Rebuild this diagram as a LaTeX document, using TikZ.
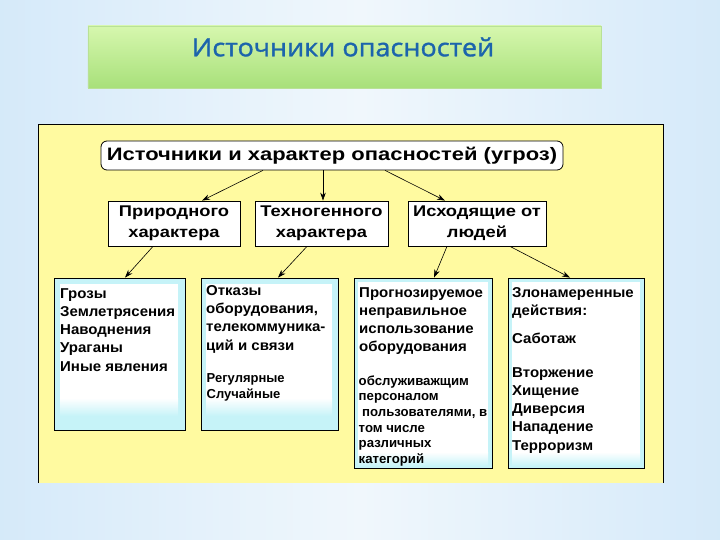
\documentclass[tikz,border=0pt]{standalone}
\usepackage{fontspec}
\setmainfont{Liberation Sans}
\newfontfamily\titlefont[FakeBold=1.3,FakeStretch=1.08]{Open Sans}
\newfontfamily\wideA[FakeStretch=1.22]{Liberation Sans}
\newfontfamily\wideB[FakeStretch=1.18]{Liberation Sans}
\newfontfamily\wideC[FakeStretch=1.05]{Liberation Sans}
\usetikzlibrary{arrows.meta,calc}
\definecolor{bge}{RGB}{164,209,243}
\definecolor{bgm}{RGB}{210,232,249}
\definecolor{bgc}{RGB}{240,247,252}
\definecolor{greentop}{RGB}{214,247,174}
\definecolor{greenbot}{RGB}{168,224,122}
\definecolor{greenline}{RGB}{185,225,150}
\definecolor{titleblue}{RGB}{28,100,172}
\definecolor{panelyellow}{RGB}{255,250,160}
\definecolor{boxcyan}{RGB}{198,243,248}
\pgfdeclarehorizontalshading{bgshade}{100bp}{color(0bp)=(bge); color(22bp)=(bgm); color(50bp)=(bgc); color(78bp)=(bgm); color(100bp)=(bge)}
\tikzset{
  box/.style={draw=black, line width=0.8bp, fill=white, inner sep=0, align=center,
    font=\wideB\fontsize{15.5bp}{21bp}\selectfont\bfseries},
  cbox/.style={draw=black, line width=0.8bp, fill=boxcyan, inner sep=0},
  big/.style={anchor=north west, inner sep=0, align=left,
    font=\wideC\fontsize{14.3bp}{18.3bp}\selectfont\bfseries},
  small/.style={anchor=north west, inner sep=0, align=left,
    font=\fontsize{13.2bp}{15.6bp}\selectfont\bfseries},
  arr/.style={line width=0.6bp, -{Stealth[length=8bp,width=5.5bp]}}
}
\begin{document}
\begin{tikzpicture}[x=1bp,y=-1bp]
\useasboundingbox (0,0) rectangle (720,540);
\shade[shading=bgshade] (0,0) rectangle (720,540);
% title
\node[draw=greenline, line width=0.6bp, top color=greentop, bottom color=greenbot,
  minimum width=513bp, minimum height=62bp, inner sep=0] (title) at (344.5,57) {};
\node[inner sep=0, text=titleblue, font=\titlefont\fontsize{25bp}{30bp}\selectfont] (titletxt) at (343,47) {Источники опасностей};
% yellow panel
\fill[panelyellow] (38,124) rectangle (663,483);
\draw[line width=0.8bp] (38,483) -- (38,124) -- (663,124) -- (663,483);
% top box
\node[box, rounded corners=6bp, minimum width=462bp, minimum height=29bp,
  font=\wideA\fontsize{18bp}{20bp}\selectfont\bfseries] (top) at (332,155.5) {Источники и характер опасностей (угроз)};
% second row
\node[box, minimum width=132bp, minimum height=45bp] (A) at (174,223.5) {Природного\\характера};
\node[box, minimum width=133bp, minimum height=45bp] (B) at (321.5,223.5) {Техногенного\\характера};
\node[box, minimum width=138bp, minimum height=45bp] (C) at (477,223.5) {Исходящие от\\людей};
% third row
\node[cbox, minimum width=131bp, minimum height=152bp] (D) at (119.5,354) {};
\node[cbox, minimum width=137bp, minimum height=152bp] (E) at (269.5,354) {};
\node[cbox, minimum width=138bp, minimum height=190bp] (F) at (423,373) {};
\node[cbox, minimum width=136bp, minimum height=190bp] (G) at (576,373) {};
% white insides
\fill[white] (60,284) rectangle (178,398);
\shade[top color=white, bottom color=boxcyan] (60,398) rectangle (178,416);
\fill[white] (206,284) rectangle (332,398);
\shade[top color=white, bottom color=boxcyan] (206,398) rectangle (332,416);
\fill[white] (358,282) rectangle (488,452);
\shade[top color=white, bottom color=boxcyan] (358,452) rectangle (488,466);
\fill[white] (512,282) rectangle (640,452);
\shade[top color=white, bottom color=boxcyan] (512,452) rectangle (640,466);
% texts
\node[big] (Dt) at (60,288) {Грозы\\Землетрясения\\Наводнения\\Ураганы\\Иные явления};
\node[big] (Et) at (206,285) {Отказы\\оборудования,\\телекоммуника-\\ций и связи};
\node[small, font=\fontsize{13bp}{16bp}\selectfont\bfseries] (Es) at (206.5,373) {Регулярные\\Случайные};
\node[big] (Ft) at (359,287) {Прогнозируемое\\неправильное\\использование\\оборудования};
\node[small] (Fs) at (358.5,375.5) {обслуживажщим\\персоналом\\\hspace*{3.5bp}пользователями, в\\том числе\\различных\\категорий};
\node[big] (Gt) at (512,287) {Злонамеренные\\действия:};
\node[big] (Gs) at (512,333) {Саботаж};
\node[big] (Gl) at (512,367) {Вторжение\\Хищение\\Диверсия\\Нападение\\Терроризм};
% arrows
\draw[arr] ([xshift=-69bp]top.south) -- ([xshift=28bp]A.north);
\draw[arr] ([xshift=1.5bp]B.north |- top.south) -- ([xshift=1.5bp]B.north);
\draw[arr] ([xshift=53bp]top.south) -- ([xshift=-32bp]C.north);
\draw[arr] ([xshift=-21bp]A.south) -- ([xshift=5.5bp]D.north);
\draw[arr] ([xshift=-14.5bp]B.south) -- ([xshift=8.5bp]E.north);
\draw[arr] ([xshift=-30bp]C.south) -- ([xshift=11bp]F.north);
\draw[arr] ([xshift=33bp]C.south) -- ([xshift=-6bp]G.north);
\end{tikzpicture}
\end{document}
